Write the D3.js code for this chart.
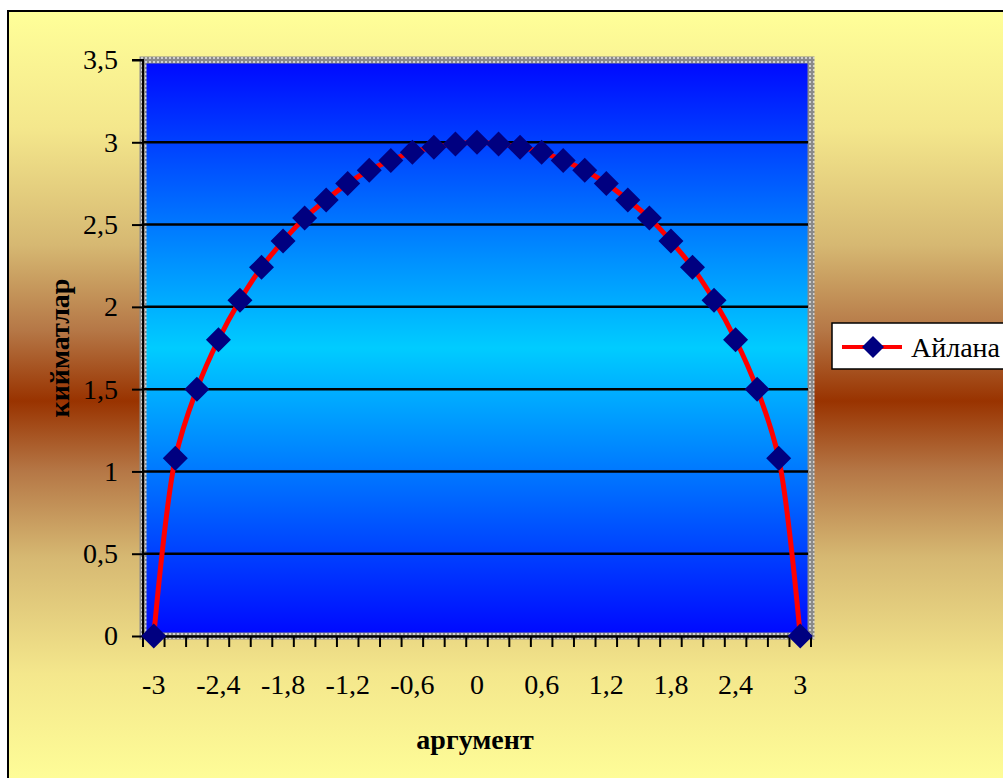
<!DOCTYPE html>
<html>
<head>
<meta charset="utf-8">
<script src="https://cdn.jsdelivr.net/npm/d3@7"></script>
<style>
  body { margin: 0; background: #fff; }
  svg text { font-family: "Liberation Serif", "Tinos", "DejaVu Serif", serif; }
</style>
</head>
<body>
<div id="chart"></div>
<script>
// argument values (categories) and the circle values
const xValues = [-3, -2.8, -2.6, -2.4, -2.2, -2, -1.8, -1.6, -1.4, -1.2, -1, -0.8, -0.6, -0.4, -0.2,
                 0, 0.2, 0.4, 0.6, 0.8, 1, 1.2, 1.4, 1.6, 1.8, 2, 2.2, 2.4, 2.6, 2.8, 3];
const yValues = [0, 1.08, 1.5, 1.8, 2.04, 2.24, 2.4, 2.54, 2.65, 2.75, 2.83, 2.89, 2.94, 2.97, 2.99,
                 3, 2.99, 2.97, 2.94, 2.89, 2.83, 2.75, 2.65, 2.54, 2.4, 2.24, 2.04, 1.8, 1.5, 1.08, 0];
const xTickLabels = [-3, -2.4, -1.8, -1.2, -0.6, 0, 0.6, 1.2, 1.8, 2.4, 3];
const yTicks = [0, 0.5, 1, 1.5, 2, 2.5, 3, 3.5];
const seriesName = "Айлана";
const xTitle = "аргумент";
const yTitle = "кийматлар";

const W = 1003, H = 778;
const plot = { left: 143, right: 811, top: 60, bottom: 636 };
const serif = "'Liberation Serif', 'Tinos', 'DejaVu Serif', serif";
const fmt = (d) => String(d).replace(".", ",");

const svg = d3.select("#chart").append("svg")
    .attr("width", W)
    .attr("height", H);

const defs = svg.append("defs");

// chart area gradient: yellow - brown - yellow
const bg = defs.append("linearGradient").attr("id", "bg")
    .attr("x1", 0).attr("y1", 0).attr("x2", 0).attr("y2", 1);
[["0%", "#FFFF99"], ["15%", "#F4E78C"], ["30%", "#D6B872"], ["41%", "#B57746"], ["50%", "#993300"],
 ["59%", "#B57746"], ["70%", "#D6B872"], ["85%", "#F4E78C"], ["100%", "#FFFF99"]]
    .forEach(([o, c]) => bg.append("stop").attr("offset", o).attr("stop-color", c));

// plot area gradient: blue - cyan - blue
const pg = defs.append("linearGradient").attr("id", "pg")
    .attr("x1", 0).attr("y1", 0).attr("x2", 0).attr("y2", 1);
pg.append("stop").attr("offset", "0%").attr("stop-color", "#0008FF");
pg.append("stop").attr("offset", "50%").attr("stop-color", "#00CCFF");
pg.append("stop").attr("offset", "100%").attr("stop-color", "#0008FF");

// dotted grey border pattern
const pat = defs.append("pattern").attr("id", "dots")
    .attr("width", 4).attr("height", 4)
    .attr("patternUnits", "userSpaceOnUse");
pat.append("rect").attr("width", 4).attr("height", 4).attr("fill", "#8a8a8a");
pat.append("rect").attr("x", 1).attr("y", 1).attr("width", 2).attr("height", 2).attr("fill", "#cfcfcf");

// chart area
svg.append("rect")
    .attr("x", 8).attr("y", 11)
    .attr("width", 1010).attr("height", 780)
    .attr("fill", "url(#bg)")
    .attr("stroke", "#000")
    .attr("stroke-width", 2);

// scales
const x = d3.scaleBand()
    .domain(xValues)
    .range([plot.left, plot.right])
    .padding(0);

const y = d3.scaleLinear()
    .domain([0, 3.5])
    .range([plot.bottom, plot.top]);

const cx = (d) => x(d) + x.bandwidth() / 2;

// plot area
svg.append("rect")
    .attr("x", plot.left).attr("y", plot.top)
    .attr("width", plot.right - plot.left)
    .attr("height", plot.bottom - plot.top)
    .attr("fill", "url(#pg)")
    .attr("stroke", "url(#dots)")
    .attr("stroke-width", 7);

// gridlines
svg.append("g")
    .selectAll("line")
    .data(yTicks.filter((d) => d > 0 && d < 3.5))
    .enter()
    .append("line")
    .attr("x1", plot.left).attr("x2", plot.right - 3)
    .attr("y1", (d) => y(d)).attr("y2", (d) => y(d))
    .attr("stroke", "#000")
    .attr("stroke-width", 2.5);

// Y axis
const yAxis = d3.axisLeft(y)
    .tickValues(yTicks)
    .tickSize(11)
    .tickPadding(14)
    .tickFormat(fmt);

const gy = svg.append("g")
    .attr("transform", `translate(${plot.left}, 0)`)
    .call(yAxis)
    .attr("font-family", serif);
gy.select(".domain").attr("stroke-width", 2).attr("d", `M-11,${plot.top}H0V${plot.bottom}`);
gy.selectAll(".tick line").attr("stroke-width", 2);
gy.selectAll(".tick text")
    .attr("font-size", 28)
    .attr("fill", "#000");

// X axis: labels under every third category
const xAxis = d3.axisBottom(x)
    .tickValues(xTickLabels)
    .tickSize(0)
    .tickPadding(38)
    .tickFormat(fmt);

const gx = svg.append("g")
    .attr("transform", `translate(0, ${plot.bottom})`)
    .call(xAxis)
    .attr("font-family", serif);
gx.select(".domain").attr("stroke-width", 2.5);
gx.selectAll(".tick text")
    .attr("font-size", 28)
    .attr("fill", "#000");

// X tick marks on category boundaries
const bounds = xValues.map((d) => x(d)).concat([x(xValues[xValues.length - 1]) + x.bandwidth()]);
gx.append("g")
    .selectAll("line")
    .data(bounds)
    .enter()
    .append("line")
    .attr("x1", (d) => d).attr("x2", (d) => d)
    .attr("y1", 0).attr("y2", 11)
    .attr("stroke", "#000")
    .attr("stroke-width", 2);

// series line
const line = d3.line()
    .x((d, i) => cx(xValues[i]))
    .y((d) => y(d))
    .curve(d3.curveCatmullRom.alpha(0.5));

svg.append("path")
    .datum(yValues)
    .attr("d", line)
    .attr("fill", "none")
    .attr("stroke", "#FF0000")
    .attr("stroke-width", 5);

// diamond markers
const diamond = "M0,-12.5L12.5,0L0,12.5L-12.5,0Z";
svg.append("g")
    .selectAll("path")
    .data(yValues)
    .enter()
    .append("path")
    .attr("d", diamond)
    .attr("transform", (d, i) => `translate(${cx(xValues[i])}, ${y(d)})`)
    .attr("fill", "#000080");

// axis titles
svg.append("text")
    .text(xTitle)
    .attr("x", 475)
    .attr("y", 749)
    .attr("text-anchor", "middle")
    .attr("font-family", serif)
    .attr("font-size", 28)
    .attr("font-weight", "bold");

svg.append("text")
    .text(yTitle)
    .attr("transform", "translate(69, 348) rotate(-90)")
    .attr("text-anchor", "middle")
    .attr("font-family", serif)
    .attr("font-size", 28)
    .attr("font-weight", "bold");

// legend
const legend = svg.append("g").attr("id", "legend");
legend.append("rect")
    .attr("x", 832).attr("y", 323)
    .attr("width", 200).attr("height", 46)
    .attr("fill", "#fff")
    .attr("stroke", "#000")
    .attr("stroke-width", 1.5);
legend.append("line")
    .attr("x1", 842).attr("x2", 902)
    .attr("y1", 347).attr("y2", 347)
    .attr("stroke", "#FF0000")
    .attr("stroke-width", 4);
legend.append("path")
    .attr("d", "M0,-11L11,0L0,11L-11,0Z")
    .attr("transform", "translate(873, 347)")
    .attr("fill", "#000080");
legend.append("text")
    .text(seriesName)
    .attr("x", 911)
    .attr("y", 357)
    .attr("font-family", serif)
    .attr("font-size", 28);
</script>
</body>
</html>
